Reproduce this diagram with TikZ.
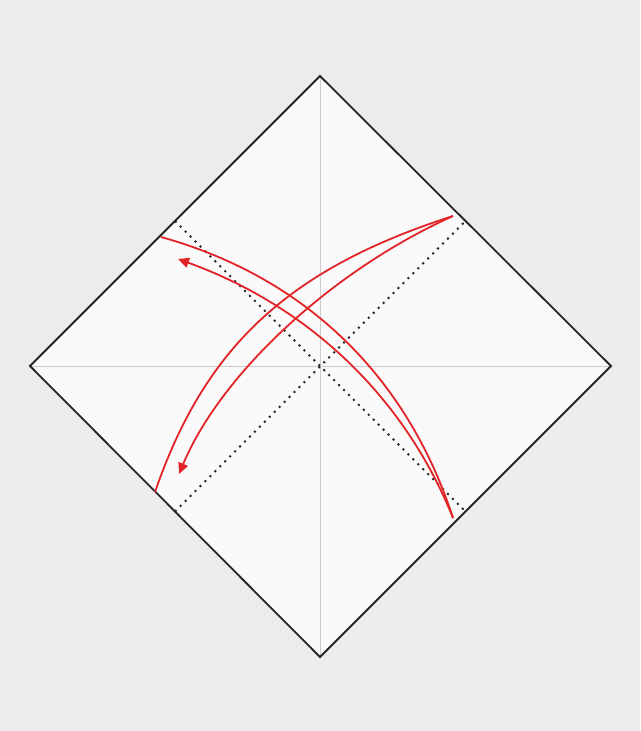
\documentclass[tikz,border=0pt]{standalone}
\usepackage{tikz}
\usetikzlibrary{arrows.meta, calc}
\usepackage{xcolor}

\definecolor{backdrop}{RGB}{236,236,238}
\definecolor{paper}{RGB}{250,250,250}
\definecolor{crease}{RGB}{205,205,208}
\definecolor{foldred}{RGB}{226,36,40}

\begin{document}
\begin{tikzpicture}[x=1pt, y=-1pt,
    edge/.style={line width=1.8pt, black!85},
    creaseline/.style={line width=1pt, crease},
    valley/.style={line width=2pt, black!85, dash pattern=on 2pt off 5pt},
    foldarrow/.style={line width=1.8pt, foldred},
    tip/.style={-{Triangle[length=11pt, width=10pt]}}]
    % Background
    \fill[backdrop] (0,0) rectangle (640,731);
    \useasboundingbox (0,0) rectangle (640,731);

    % Paper corners
    \coordinate (top) at (320,76);
    \coordinate (right) at (611,366);
    \coordinate (bottom) at (320,657);
    \coordinate (left) at (30,366);
    \coordinate (mid) at (320,366);

    % Paper
    \fill[paper] (top) -- (right) -- (bottom) -- (left) -- cycle;

    % Creases
    \draw[creaseline] (top) -- (bottom);
    \draw[creaseline] (left) -- (right);

    % Valley folds
    \draw[valley] ($(left)!0.5!(top)$) -- ($(right)!0.5!(bottom)$);
    \draw[valley] ($(left)!0.5!(bottom)$) -- ($(right)!0.5!(top)$);

    % Edges
    \draw[edge] (top) -- (right) -- (bottom) -- (left) -- cycle;

    % Fold arrows
    \draw[foldarrow] (161,237) .. controls (305,277) and (407,376) .. (453,518);
    \draw[foldarrow, tip] (453,518) .. controls (404,396) and (308,306) .. (178,259);
    \draw[foldarrow] (155,492) .. controls (205,347) and (288,269) .. (453,216);
    \draw[foldarrow, tip] (453,216) .. controls (331,271) and (221,374) .. (179,474);
\end{tikzpicture}
\end{document}
